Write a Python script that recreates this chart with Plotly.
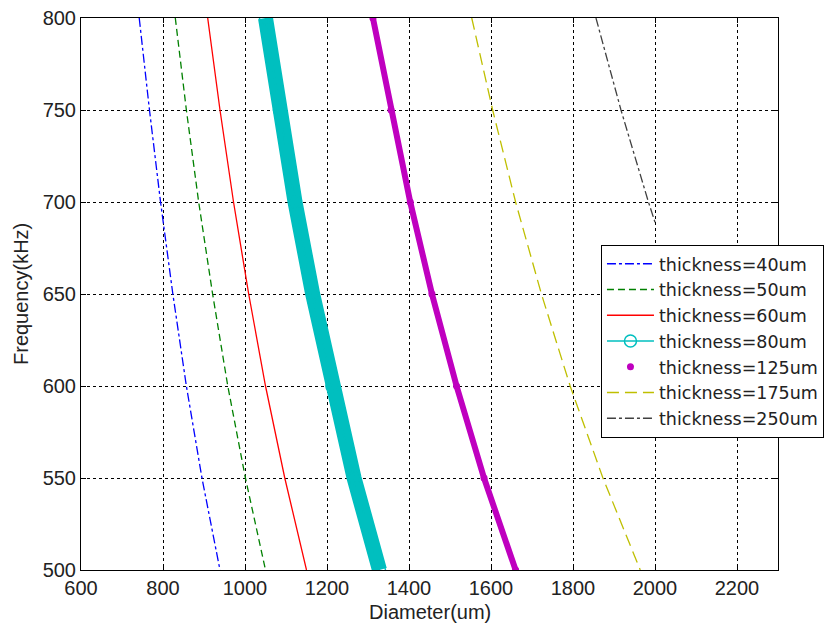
import plotly.graph_objects as go

freq = [800, 750, 700, 650, 600, 550, 500]

# Diameter (um) for each plate thickness
d_40 = [742, 767, 794, 824, 857, 895, 939]
d_50 = [830, 857, 887, 921, 958, 1001, 1050]
d_60 = [909, 939, 972, 1009, 1050, 1097, 1150]
d_80 = [1050, 1084, 1122, 1165, 1212, 1266, 1328]
d_125 = [1312, 1356, 1403, 1456, 1516, 1583, 1660]
d_175 = [1553, 1604, 1660, 1723, 1793, 1873, 1964]
freq_250 = [800, 750, 700, 689]
d_250 = [1856, 1917, 1984, 2000]

names = ["thickness=40um", "thickness=50um", "thickness=60um", "thickness=80um",
         "thickness=125um", "thickness=175um", "thickness=250um"]

x_ticks = [600, 800, 1000, 1200, 1400, 1600, 1800, 2000, 2200]
y_ticks = [500, 550, 600, 650, 700, 750, 800]

FONT = "Liberation Sans, Arial, sans-serif"
LEGFONT = "DejaVu Sans, sans-serif"

fig = go.Figure()

# background bands for the dense-marker series
fig.add_trace(go.Scatter(x=d_80, y=freq, mode="lines", showlegend=False,
                         line=dict(color="#00BFBF", width=15), hoverinfo="skip"))
fig.add_trace(go.Scatter(x=d_125, y=freq, mode="lines", showlegend=False,
                         line=dict(color="#BF00BF", width=6), hoverinfo="skip"))

fig.add_trace(go.Scatter(x=d_40, y=freq, mode="lines", name=names[0],
                         line=dict(color="#0000FF", width=1.3, dash="dashdot")))
fig.add_trace(go.Scatter(x=d_50, y=freq, mode="lines", name=names[1],
                         line=dict(color="#008000", width=1.3, dash="7px,4px")))
fig.add_trace(go.Scatter(x=d_60, y=freq, mode="lines", name=names[2],
                         line=dict(color="#FF0000", width=1.3)))
fig.add_trace(go.Scatter(x=d_80, y=freq, mode="lines+markers", name=names[3],
                         line=dict(color="#00BFBF", width=1.5),
                         marker=dict(symbol="circle-open", size=12, color="#00BFBF",
                                     line=dict(width=1.5))))
fig.add_trace(go.Scatter(x=d_125, y=freq, mode="markers", name=names[4],
                         marker=dict(symbol="circle", size=7, color="#BF00BF")))
fig.add_trace(go.Scatter(x=d_175, y=freq, mode="lines", name=names[5],
                         line=dict(color="#BFBF00", width=1.3, dash="12px,6px")))
fig.add_trace(go.Scatter(x=d_250, y=freq_250, mode="lines", name=names[6],
                         line=dict(color="#404040", width=1.3, dash="dashdot")))

axis_common = dict(
    showline=True, linecolor="black", linewidth=1, mirror="ticks",
    ticks="inside", ticklen=5, tickcolor="black",
    showgrid=True, gridcolor="black", gridwidth=1, griddash="3px,3px",
    zeroline=False,
    tickfont=dict(family=FONT, size=20, color="#222222"),
)

fig.update_xaxes(range=[600, 2300], tickvals=x_ticks, **axis_common)
fig.update_yaxes(range=[500, 800], tickvals=y_ticks, **axis_common)

fig.add_annotation(text="Diameter(um)", xref="paper", yref="paper", x=0.5, y=0,
                   xanchor="center", yanchor="middle", yshift=-42, showarrow=False,
                   font=dict(family=FONT, size=20, color="#222222"))
fig.add_annotation(text="Frequency(kHz)", xref="paper", yref="paper", x=0, y=0.5,
                   xanchor="center", yanchor="middle", xshift=-60, textangle=-90,
                   showarrow=False, font=dict(family=FONT, size=20, color="#222222"))

fig.update_layout(
    width=832, height=629,
    margin=dict(l=81, r=54, t=18, b=59, autoexpand=False),
    paper_bgcolor="white", plot_bgcolor="white",
    font=dict(family=FONT, color="black"),
    legend=dict(x=0.746, y=0.589, xanchor="left", yanchor="top",
                bgcolor="white", bordercolor="black", borderwidth=1,
                font=dict(family=LEGFONT, size=17.5, color="#222222"),
                itemwidth=47),
)

fig.write_html("out.html")
